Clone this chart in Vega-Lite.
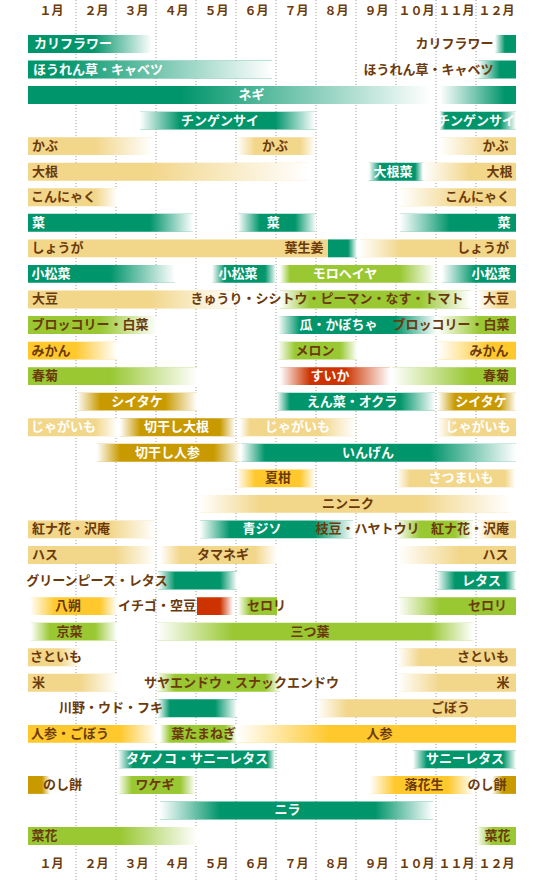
{
  "$schema": "https://vega.github.io/schema/vega-lite/v6.json",
  "width": 560,
  "height": 880,
  "autosize": {"type": "none"},
  "padding": 0,
  "background": "#ffffff",
  "config": {"view": {"stroke": null}, "font": "Noto Sans CJK JP"},
  "datasets": {
    "grid": [{"v": 1}, {"v": 2}, {"v": 3}, {"v": 4}, {"v": 5}, {"v": 6}, {"v": 7}, {"v": 8}, {"v": 9}, {"v": 10}, {"v": 11}],
    "bars": [
      {"r": 0, "x0": -0.2, "s": -0.2, "e": 1.425, "x1": 2.9, "c": "dark"},
      {"r": 0, "x0": 11.475, "s": 11.725, "e": 12, "x1": 12, "c": "dark"},
      {"r": 1, "x0": -0.2, "s": -0.2, "e": 0.6, "x1": 5.9, "c": "dark"},
      {"r": 1, "x0": 11.05, "s": 11.6, "e": 12, "x1": 12, "c": "dark"},
      {"r": 2, "x0": -0.2, "s": -0.2, "e": 3.6, "x1": 9.85, "c": "dark"},
      {"r": 2, "x0": 10.1, "s": 11.725, "e": 12, "x1": 12, "c": "dark"},
      {"r": 3, "x0": 2.6, "s": 3.6, "e": 5.975, "x1": 6.975, "c": "dark"},
      {"r": 3, "x0": 10.1, "s": 10.225, "e": 11.6, "x1": 12, "c": "dark"},
      {"r": 4, "x0": -0.2, "s": -0.2, "e": 1.475, "x1": 2.9, "c": "tan"},
      {"r": 4, "x0": 5.025, "s": 5.475, "e": 6.6, "x1": 6.975, "c": "tan"},
      {"r": 4, "x0": 10.1, "s": 11.35, "e": 12, "x1": 12, "c": "tan"},
      {"r": 5, "x0": -0.2, "s": -0.2, "e": 2.85, "x1": 6.8, "c": "tan"},
      {"r": 5, "x0": 8.325, "s": 8.6, "e": 9.475, "x1": 9.675, "c": "dark"},
      {"r": 5, "x0": 9.675, "s": 10.85, "e": 12, "x1": 12, "c": "tan"},
      {"r": 6, "x0": -0.2, "s": -0.2, "e": 1.475, "x1": 2.025, "c": "tan"},
      {"r": 6, "x0": 9.1, "s": 10.6, "e": 12, "x1": 12, "c": "tan"},
      {"r": 7, "x0": -0.2, "s": -0.2, "e": 2.85, "x1": 3.925, "c": "dark"},
      {"r": 7, "x0": 5.05, "s": 5.6, "e": 6.475, "x1": 7.0, "c": "dark"},
      {"r": 7, "x0": 9.1, "s": 10.35, "e": 12, "x1": 12, "c": "dark"},
      {"r": 8, "x0": -0.2, "s": -0.2, "e": 7.35, "x1": 7.35, "c": "tan"},
      {"r": 8, "x0": 7.3, "s": 7.3, "e": 7.8, "x1": 8.025, "c": "dark"},
      {"r": 8, "x0": 8.1, "s": 9.1, "e": 12, "x1": 12, "c": "tan"},
      {"r": 9, "x0": -0.2, "s": -0.2, "e": 1.85, "x1": 3.475, "c": "dark"},
      {"r": 9, "x0": 4.4, "s": 4.725, "e": 5.725, "x1": 6.0, "c": "dark"},
      {"r": 9, "x0": 6.1, "s": 6.35, "e": 9.1, "x1": 9.975, "c": "light"},
      {"r": 9, "x0": 10.15, "s": 10.975, "e": 12, "x1": 12, "c": "dark"},
      {"r": 10, "x0": -0.2, "s": -0.2, "e": 2.85, "x1": 4.975, "c": "tan"},
      {"r": 10, "x0": 6.1, "s": 6.85, "e": 9.6, "x1": 10.85, "c": "light"},
      {"r": 10, "x0": 11.05, "s": 11.6, "e": 12, "x1": 12, "c": "tan"},
      {"r": 11, "x0": -0.2, "s": -0.2, "e": 1.6, "x1": 3.025, "c": "light"},
      {"r": 11, "x0": 6.05, "s": 6.6, "e": 8.975, "x1": 10.025, "c": "dark"},
      {"r": 11, "x0": 10.025, "s": 11.1, "e": 12, "x1": 12, "c": "light"},
      {"r": 12, "x0": -0.2, "s": -0.2, "e": 0.975, "x1": 2.025, "c": "orange"},
      {"r": 12, "x0": 6.05, "s": 6.475, "e": 7.6, "x1": 8.025, "c": "light"},
      {"r": 12, "x0": 10.05, "s": 11.35, "e": 12, "x1": 12, "c": "orange"},
      {"r": 13, "x0": -0.2, "s": -0.2, "e": 1.85, "x1": 4.025, "c": "light"},
      {"r": 13, "x0": 6.1, "s": 6.85, "e": 7.725, "x1": 8.85, "c": "red"},
      {"r": 13, "x0": 8.9, "s": 10.85, "e": 12, "x1": 12, "c": "light"},
      {"r": 14, "x0": 1.025, "s": 1.6, "e": 3.225, "x1": 4.025, "c": "gold"},
      {"r": 14, "x0": 6.025, "s": 6.35, "e": 9.1, "x1": 9.975, "c": "dark"},
      {"r": 14, "x0": 10.05, "s": 10.475, "e": 11.6, "x1": 12, "c": "gold"},
      {"r": 15, "x0": -0.2, "s": -0.2, "e": 1.475, "x1": 2.025, "c": "tan"},
      {"r": 15, "x0": 2.1, "s": 2.6, "e": 4.6, "x1": 4.975, "c": "gold"},
      {"r": 15, "x0": 5.1, "s": 5.35, "e": 7.1, "x1": 7.975, "c": "tan"},
      {"r": 15, "x0": 10.05, "s": 10.475, "e": 12, "x1": 12, "c": "tan"},
      {"r": 16, "x0": 1.525, "s": 2.1, "e": 4.45, "x1": 5.1, "c": "gold"},
      {"r": 16, "x0": 5.125, "s": 5.725, "e": 9.85, "x1": 12, "c": "dark"},
      {"r": 17, "x0": 5.025, "s": 5.475, "e": 6.6, "x1": 6.975, "c": "orange"},
      {"r": 17, "x0": 9.025, "s": 9.35, "e": 11.725, "x1": 11.975, "c": "tan"},
      {"r": 18, "x0": 4.1, "s": 5.6, "e": 9.6, "x1": 11.85, "c": "tan"},
      {"r": 19, "x0": -0.2, "s": -0.2, "e": 1.85, "x1": 2.975, "c": "tan"},
      {"r": 19, "x0": 4.1, "s": 4.85, "e": 6.975, "x1": 7.925, "c": "dark"},
      {"r": 19, "x0": 9.025, "s": 9.6, "e": 10.475, "x1": 10.925, "c": "light"},
      {"r": 19, "x0": 11.05, "s": 11.475, "e": 12, "x1": 12, "c": "tan"},
      {"r": 20, "x0": -0.2, "s": -0.2, "e": 1.975, "x1": 2.975, "c": "tan"},
      {"r": 20, "x0": 3.1, "s": 3.6, "e": 5.475, "x1": 6.025, "c": "tan"},
      {"r": 20, "x0": 9.05, "s": 10.6, "e": 12, "x1": 12, "c": "tan"},
      {"r": 21, "x0": 3.05, "s": 3.475, "e": 4.6, "x1": 5.025, "c": "dark"},
      {"r": 21, "x0": 10.025, "s": 10.475, "e": 11.725, "x1": 12, "c": "dark"},
      {"r": 22, "x0": -0.15, "s": 0.475, "e": 1.6, "x1": 2.025, "c": "orange"},
      {"r": 22, "x0": 4.025, "s": 4.025, "e": 4.6, "x1": 4.925, "c": "red"},
      {"r": 22, "x0": 5.05, "s": 5.35, "e": 6.025, "x1": 6.025, "c": "light"},
      {"r": 22, "x0": 9.05, "s": 10.1, "e": 12, "x1": 12, "c": "light"},
      {"r": 23, "x0": -0.125, "s": 0.35, "e": 1.475, "x1": 2.025, "c": "light"},
      {"r": 23, "x0": 3.025, "s": 4.925, "e": 9.85, "x1": 10.925, "c": "light"},
      {"r": 24, "x0": -0.2, "s": -0.2, "e": 0.6, "x1": 1.1, "c": "tan"},
      {"r": 24, "x0": 9.05, "s": 9.6, "e": 12, "x1": 12, "c": "tan"},
      {"r": 25, "x0": -0.2, "s": -0.2, "e": 1.1, "x1": 2.025, "c": "tan"},
      {"r": 25, "x0": 3.025, "s": 3.475, "e": 5.725, "x1": 6.1, "c": "light"},
      {"r": 25, "x0": 9.05, "s": 10.1, "e": 12, "x1": 12, "c": "tan"},
      {"r": 26, "x0": 3.05, "s": 3.35, "e": 4.475, "x1": 5.025, "c": "dark"},
      {"r": 26, "x0": 7.025, "s": 7.775, "e": 12, "x1": 12, "c": "tan"},
      {"r": 27, "x0": -0.2, "s": -0.2, "e": 2.1, "x1": 3.025, "c": "orange"},
      {"r": 27, "x0": 3.1, "s": 3.35, "e": 4.725, "x1": 5.025, "c": "light"},
      {"r": 27, "x0": 5.025, "s": 7.35, "e": 12, "x1": 12, "c": "orange"},
      {"r": 28, "x0": 2.05, "s": 2.425, "e": 5.775, "x1": 5.975, "c": "dark"},
      {"r": 28, "x0": 9.425, "s": 9.775, "e": 11.675, "x1": 12, "c": "dark"},
      {"r": 29, "x0": -0.2, "s": -0.2, "e": 0.15, "x1": 0.35, "c": "gold"},
      {"r": 29, "x0": 2.05, "s": 2.4, "e": 3.6, "x1": 3.975, "c": "light"},
      {"r": 29, "x0": 8.35, "s": 8.975, "e": 10.3, "x1": 10.925, "c": "orange"},
      {"r": 29, "x0": 11.4, "s": 11.675, "e": 12, "x1": 12, "c": "gold"},
      {"r": 30, "x0": 3.1, "s": 4.6, "e": 8.475, "x1": 9.925, "c": "dark"},
      {"r": 31, "x0": -0.2, "s": -0.2, "e": 2.1, "x1": 4.025, "c": "light"},
      {"r": 31, "x0": 11.025, "s": 11.4, "e": 12, "x1": 12, "c": "light"}
    ],
    "labels": [
      {"r": 0, "t": "カリフラワー", "x": 0.925, "w": "w"},
      {"r": 0, "t": "カリフラワー", "x": 10.46, "w": "d"},
      {"r": 1, "t": "ほうれん草・キャベツ", "x": 1.55, "w": "w"},
      {"r": 1, "t": "ほうれん草・キャベツ", "x": 9.81, "w": "d"},
      {"r": 2, "t": "ネギ", "x": 5.39, "w": "w"},
      {"r": 3, "t": "チンゲンサイ", "x": 4.6, "w": "w"},
      {"r": 3, "t": "チンゲンサイ", "x": 11.0, "w": "w"},
      {"r": 4, "t": "かぶ", "x": 0.225, "w": "d"},
      {"r": 4, "t": "かぶ", "x": 5.975, "w": "d"},
      {"r": 4, "t": "かぶ", "x": 11.49, "w": "d"},
      {"r": 5, "t": "大根", "x": 0.225, "w": "d"},
      {"r": 5, "t": "大根菜", "x": 8.925, "w": "w"},
      {"r": 5, "t": "大根", "x": 11.59, "w": "d"},
      {"r": 6, "t": "こんにゃく", "x": 0.69, "w": "d"},
      {"r": 6, "t": "こんにゃく", "x": 11.04, "w": "d"},
      {"r": 7, "t": "菜", "x": 0.06, "w": "w"},
      {"r": 7, "t": "菜", "x": 5.93, "w": "w"},
      {"r": 7, "t": "菜", "x": 11.7, "w": "w"},
      {"r": 8, "t": "しょうが", "x": 0.54, "w": "d"},
      {"r": 8, "t": "葉生姜", "x": 6.7, "w": "d"},
      {"r": 8, "t": "しょうが", "x": 11.175, "w": "d"},
      {"r": 9, "t": "小松菜", "x": 0.375, "w": "w"},
      {"r": 9, "t": "小松菜", "x": 5.05, "w": "w"},
      {"r": 9, "t": "モロヘイヤ", "x": 7.725, "w": "w"},
      {"r": 9, "t": "小松菜", "x": 11.375, "w": "w"},
      {"r": 10, "t": "大豆", "x": 0.225, "w": "d"},
      {"r": 10, "t": "きゅうり・シシトウ・ピーマン・なす・トマト", "x": 7.275, "w": "d"},
      {"r": 10, "t": "大豆", "x": 11.5, "w": "d"},
      {"r": 11, "t": "ブロッコリー・白菜", "x": 1.35, "w": "d"},
      {"r": 11, "t": "瓜・かぼちゃ", "x": 7.56, "w": "w"},
      {"r": 11, "t": "ブロッコリー・白菜", "x": 10.375, "w": "d"},
      {"r": 12, "t": "みかん", "x": 0.375, "w": "d"},
      {"r": 12, "t": "メロン", "x": 6.975, "w": "d"},
      {"r": 12, "t": "みかん", "x": 11.325, "w": "d"},
      {"r": 13, "t": "春菊", "x": 0.225, "w": "d"},
      {"r": 13, "t": "すいか", "x": 7.35, "w": "w"},
      {"r": 13, "t": "春菊", "x": 11.5, "w": "d"},
      {"r": 14, "t": "シイタケ", "x": 2.525, "w": "w"},
      {"r": 14, "t": "えん菜・オクラ", "x": 7.9, "w": "w"},
      {"r": 14, "t": "シイタケ", "x": 11.125, "w": "w"},
      {"r": 15, "t": "じゃがいも", "x": 0.69, "w": "w"},
      {"r": 15, "t": "切干し大根", "x": 3.51, "w": "w"},
      {"r": 15, "t": "じゃがいも", "x": 6.54, "w": "w"},
      {"r": 15, "t": "じゃがいも", "x": 11.05, "w": "w"},
      {"r": 16, "t": "切干し人参", "x": 3.29, "w": "w"},
      {"r": 16, "t": "いんげん", "x": 8.3, "w": "w"},
      {"r": 17, "t": "夏柑", "x": 6.05, "w": "d"},
      {"r": 17, "t": "さつまいも", "x": 10.625, "w": "w"},
      {"r": 18, "t": "ニンニク", "x": 7.8, "w": "d"},
      {"r": 19, "t": "紅ナ花・沢庵", "x": 0.875, "w": "d"},
      {"r": 19, "t": "青ジソ", "x": 5.65, "w": "w"},
      {"r": 19, "t": "枝豆・ハヤトウリ", "x": 8.29, "w": "d"},
      {"r": 19, "t": "紅ナ花・沢庵", "x": 10.85, "w": "d"},
      {"r": 20, "t": "ハス", "x": 0.225, "w": "d"},
      {"r": 20, "t": "タマネギ", "x": 4.675, "w": "d"},
      {"r": 20, "t": "ハス", "x": 11.49, "w": "d"},
      {"r": 21, "t": "グリーンピース・レタス", "x": 1.525, "w": "d"},
      {"r": 21, "t": "レタス", "x": 11.14, "w": "w"},
      {"r": 22, "t": "八朔", "x": 0.8, "w": "d"},
      {"r": 22, "t": "イチゴ・空豆", "x": 3.025, "w": "d"},
      {"r": 22, "t": "セロリ", "x": 5.76, "w": "d"},
      {"r": 22, "t": "セロリ", "x": 11.29, "w": "d"},
      {"r": 23, "t": "京菜", "x": 0.84, "w": "d"},
      {"r": 23, "t": "三つ葉", "x": 6.85, "w": "d"},
      {"r": 24, "t": "さといも", "x": 0.5, "w": "d"},
      {"r": 24, "t": "さといも", "x": 11.175, "w": "d"},
      {"r": 25, "t": "米", "x": 0.06, "w": "d"},
      {"r": 25, "t": "サヤエンドウ・スナックエンドウ", "x": 5.14, "w": "d"},
      {"r": 25, "t": "米", "x": 11.675, "w": "d"},
      {"r": 26, "t": "川野・ウド・フキ", "x": 1.875, "w": "d"},
      {"r": 26, "t": "ごぼう", "x": 10.36, "w": "d"},
      {"r": 27, "t": "人参・ごぼう", "x": 0.85, "w": "d"},
      {"r": 27, "t": "葉たまねぎ", "x": 4.19, "w": "d"},
      {"r": 27, "t": "人参", "x": 8.59, "w": "d"},
      {"r": 28, "t": "タケノコ・サニーレタス", "x": 4.025, "w": "w"},
      {"r": 28, "t": "サニーレタス", "x": 10.725, "w": "w"},
      {"r": 29, "t": "のし餅", "x": 0.66, "w": "d"},
      {"r": 29, "t": "ワケギ", "x": 2.975, "w": "d"},
      {"r": 29, "t": "落花生", "x": 9.7, "w": "d"},
      {"r": 29, "t": "のし餅", "x": 11.275, "w": "d"},
      {"r": 30, "t": "ニラ", "x": 6.29, "w": "w"},
      {"r": 31, "t": "菜花", "x": 0.21, "w": "d"},
      {"r": 31, "t": "菜花", "x": 11.54, "w": "d"}
    ]
  },
  "resolve": {"axis": {"x": "independent"}, "scale": {"color": "independent"}},
  "layer": [
    {
      "data": {"name": "grid"},
      "mark": {"type": "rule", "color": "#9a9a9a", "strokeWidth": 1, "strokeDash": [1, 2]},
      "encoding": {
        "x": {
          "field": "v", "type": "quantitative",
          "scale": {"domain": [-0.9, 13.1], "nice": false, "zero": false},
          "axis": {
            "orient": "top", "offset": -17, "title": null, "ticks": false, "domain": false, "grid": false,
            "values": [0.375, 1.5, 2.5, 3.5, 4.5, 5.5, 6.5, 7.5, 8.5, 9.5, 10.5, 11.5],
            "labelExpr": "['１月','２月','３月','４月','５月','６月','７月','８月','９月','１０月','１１月','１２月'][floor(datum.value)]",
            "labelFont": "Noto Sans CJK JP", "labelFontSize": 12, "labelFontWeight": "bold", "labelColor": "#6b3a0c",
            "labelPadding": 0, "labelFlush": false, "labelOverlap": false, "labelBound": false
          }
        }
      }
    },
    {
      "data": {"name": "bars"},
      "mark": {"type": "bar"},
      "encoding": {
        "y": {"field": "r", "type": "ordinal", "axis": null,
              "scale": {"domain": [-1,0,1,2,3,4,5,6,7,8,9,10,11,12,13,14,15,16,17,18,19,20,21,22,23,24,25,26,27,28,29,30,31,32], "paddingInner": 0.3, "paddingOuter": 0.37}},
        "x": {
          "field": "x0", "type": "quantitative",
          "scale": {"domain": [-0.9, 13.1], "nice": false, "zero": false},
          "axis": {
            "orient": "bottom", "offset": -22, "title": null, "ticks": false, "domain": false, "grid": false,
            "values": [0.375, 1.5, 2.5, 3.5, 4.5, 5.5, 6.5, 7.5, 8.5, 9.5, 10.5, 11.5],
            "labelExpr": "['１月','２月','３月','４月','５月','６月','７月','８月','９月','１０月','１１月','１２月'][floor(datum.value)]",
            "labelFont": "Noto Sans CJK JP", "labelFontSize": 12, "labelFontWeight": "bold", "labelColor": "#6b3a0c",
            "labelPadding": 0, "labelFlush": false, "labelOverlap": false, "labelBound": false
          }
        },
        "x2": {"field": "x1"},
        "color": {"field": "c", "type": "nominal", "legend": null,
                  "scale": {"domain": ["dark", "light", "tan", "orange", "gold", "red"],
                            "range": ["#00956a", "#99c833", "#f2d68a", "#ffc82c", "#c99a00", "#cc3300"]}}
      }
    },
    {
      "data": {"name": "bars"},
      "transform": [{"filter": "datum.s > datum.x0"}],
      "mark": {"type": "bar", "color": {"gradient": "linear", "x1": 0, "y1": 0, "x2": 1, "y2": 0,
               "stops": [{"offset": 0, "color": "#ffffff"}, {"offset": 1, "color": "rgba(255,255,255,0)"}]}},
      "encoding": {
        "y": {"field": "r", "type": "ordinal", "axis": null},
        "x": {"field": "x0", "type": "quantitative", "axis": null, "scale": {"domain": [-0.9, 13.1], "nice": false, "zero": false}},
        "x2": {"field": "s"}
      }
    },
    {
      "data": {"name": "bars"},
      "transform": [{"filter": "datum.x1 > datum.e"}],
      "mark": {"type": "bar", "color": {"gradient": "linear", "x1": 0, "y1": 0, "x2": 1, "y2": 0,
               "stops": [{"offset": 0, "color": "rgba(255,255,255,0)"}, {"offset": 1, "color": "#ffffff"}]}},
      "encoding": {
        "y": {"field": "r", "type": "ordinal", "axis": null},
        "x": {"field": "e", "type": "quantitative", "axis": null, "scale": {"domain": [-0.9, 13.1], "nice": false, "zero": false}},
        "x2": {"field": "x1"}
      }
    },
    {
      "data": {"name": "labels"},
      "mark": {"type": "text", "font": "Noto Sans CJK JP", "fontSize": 13, "fontWeight": "bold", "align": "center", "baseline": "middle"},
      "encoding": {
        "y": {"field": "r", "type": "ordinal", "axis": null},
        "x": {"field": "x", "type": "quantitative", "axis": null, "scale": {"domain": [-0.9, 13.1], "nice": false, "zero": false}},
        "text": {"field": "t"},
        "color": {"field": "w", "type": "nominal", "legend": null,
                  "scale": {"domain": ["d", "w"], "range": ["#6b3a0c", "#ffffff"]}}
      }
    }
  ]
}
